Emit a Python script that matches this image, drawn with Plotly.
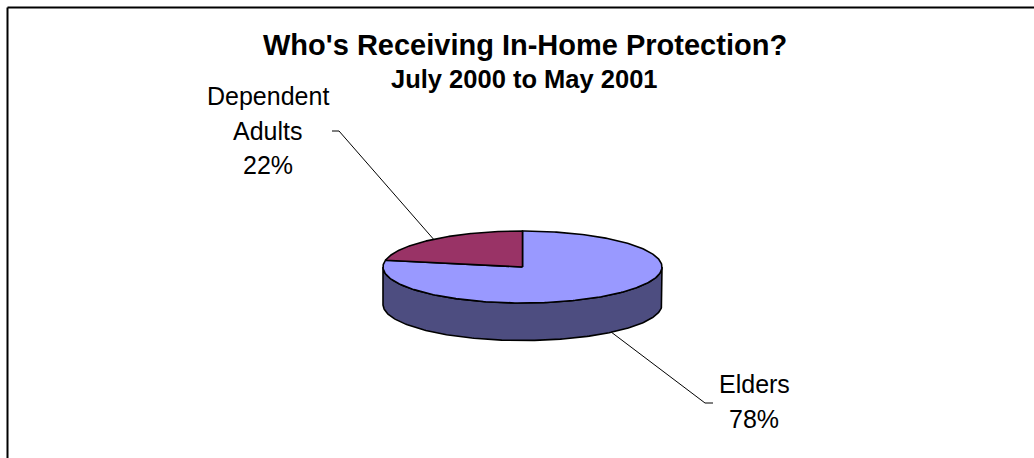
import numpy as np
import plotly.graph_objects as go

# Data
labels = ["Elders", "Dependent Adults"]
values = [78, 22]
top_colors = ["#9999FF", "#993366"]
side_colors = ["#4D4D80", "#4D1A33"]

title_text = "Who's Receiving In-Home Protection?"
subtitle_text = "July 2000 to May 2001"

W, H = 1034, 458

# Pie geometry (pixel space)
cx, cy = 522.5, 267.0
rx, ry = 139.5, 36.0
depth = 37.5
start_deg = 90.0

FONT = "Arial, Liberation Sans, sans-serif"


def ell(t, dy=0.0):
    return cx + rx * np.cos(t), cy - ry * np.sin(t) + dy


total = float(sum(values))
spans = []
a0 = np.radians(start_deg)
for v in values:
    a1 = a0 - 2 * np.pi * v / total
    spans.append((a1, a0))
    a0 = a1

fig = go.Figure()

# Front wall of the cylinder, per slice
for (lo, hi), col in zip(spans, side_colors):
    for k in (-1, 0, 1):
        f_lo, f_hi = -np.pi + 2 * np.pi * k, 0.0 + 2 * np.pi * k
        s, e = max(lo, f_lo), min(hi, f_hi)
        if e <= s:
            continue
        t = np.linspace(s, e, 200)
        xt, yt = ell(t)
        xb, yb = ell(t[::-1], depth)
        xs = np.concatenate([xt, xb, xt[:1]])
        ys = np.concatenate([yt, yb, yt[:1]])
        fig.add_trace(go.Scatter(x=xs, y=ys, mode="lines", fill="toself",
                                 fillcolor=col, line=dict(color="black", width=1.6),
                                 hoverinfo="skip", showlegend=False))

# Top face wedges
for (lo, hi), col in zip(spans, top_colors):
    t = np.linspace(hi, lo, 300)
    xa, ya = ell(t)
    xs = np.concatenate([[cx], xa, [cx]])
    ys = np.concatenate([[cy], ya, [cy]])
    fig.add_trace(go.Scatter(x=xs, y=ys, mode="lines", fill="toself",
                             fillcolor=col, line=dict(color="black", width=1.6),
                             hoverinfo="skip", showlegend=False))

# Data labels with leader lines
label_pos = [(754.0, 384.0), (267.5, 96.0)]
line_gap = 34.5
elbows = [((705.0, 403.0), (713.0, 403.0)), ((339.0, 131.0), (332.0, 131.0))]

annotations = []
for i, (lab, v) in enumerate(zip(labels, values)):
    mid = 0.5 * (spans[i][0] + spans[i][1])
    front = np.sin(mid) < 0
    px, py = ell(mid, depth if front else 0.0)
    (ex, ey), (tx, ty) = elbows[i]
    fig.add_trace(go.Scatter(x=[px, ex, tx], y=[py, ey, ty], mode="lines",
                             line=dict(color="black", width=1),
                             hoverinfo="skip", showlegend=False))
    pct = round(100 * v / total)
    lines = lab.split(" ") + [f"{pct}%"]
    lx, ly = label_pos[i]
    for j, s in enumerate(lines):
        annotations.append(dict(x=lx, y=ly + j * line_gap, xref="x", yref="y",
                                text=s, showarrow=False, xanchor="center",
                                yanchor="middle",
                                font=dict(family=FONT, size=25, color="black")))

annotations.append(dict(x=524.5, y=45, xref="x", yref="y", text=f"<b>{title_text}</b>",
                        showarrow=False, xanchor="center", yanchor="middle",
                        font=dict(family=FONT, size=29, color="black")))
annotations.append(dict(x=524.5, y=79, xref="x", yref="y", text=f"<b>{subtitle_text}</b>",
                        showarrow=False, xanchor="center", yanchor="middle",
                        font=dict(family=FONT, size=25.5, color="black")))

# Chart-area frame (top and left edges fall inside the page)
shapes = [
    dict(type="line", xref="x", yref="y", x0=7.5, y0=7.5, x1=W + 5, y1=7.5,
         line=dict(color="black", width=2)),
    dict(type="line", xref="x", yref="y", x0=7.5, y0=7.5, x1=7.5, y1=H + 5,
         line=dict(color="black", width=2)),
]

fig.update_layout(
    width=W, height=H,
    margin=dict(l=0, r=0, t=0, b=0),
    paper_bgcolor="white", plot_bgcolor="white",
    xaxis=dict(range=[0, W], visible=False, fixedrange=True),
    yaxis=dict(range=[H, 0], visible=False, fixedrange=True),
    annotations=annotations,
    shapes=shapes,
    showlegend=False,
)

fig.write_html("out.html", config={"displayModeBar": False})
